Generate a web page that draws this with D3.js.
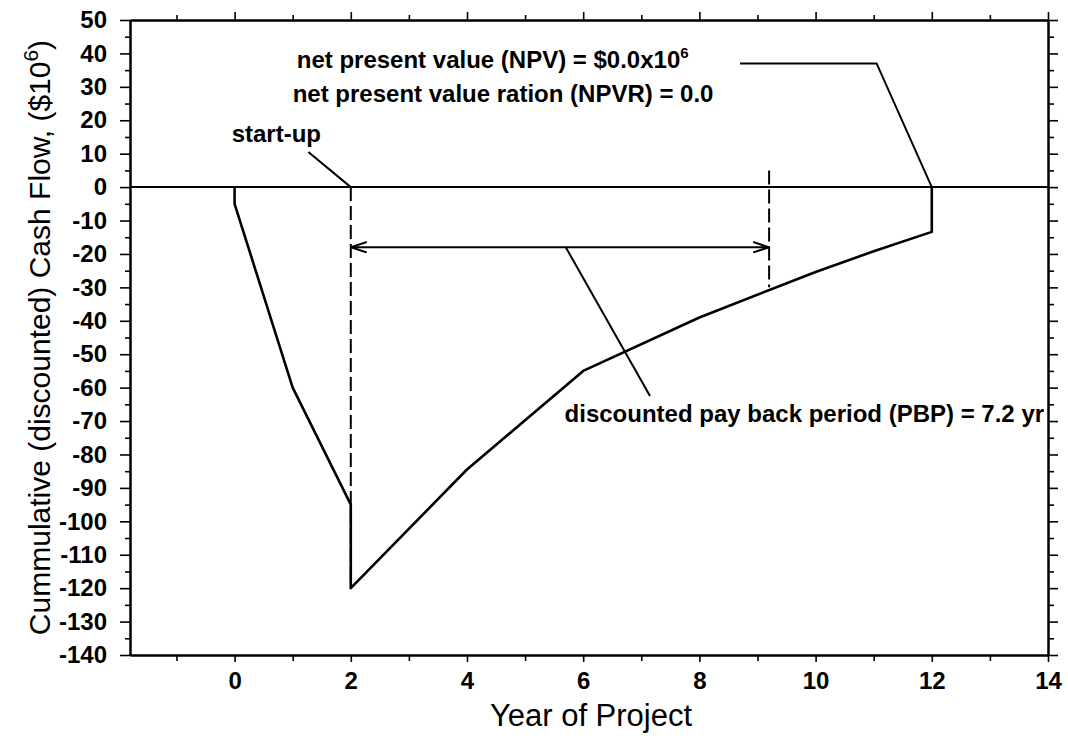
<!DOCTYPE html>
<html>
<head>
<meta charset="utf-8">
<script src="https://cdn.jsdelivr.net/npm/d3@7"></script>
<style>
  body { margin: 0; background: #fff; }
  svg { display: block; }
</style>
</head>
<body>
<div id="chart"></div>
<script>
// cumulative discounted cash flow
const years = [0, 0, 1, 2, 2, 4, 6, 8, 10, 11, 12, 12];
const cashFlow = [0, -5, -60, -95, -120, -84.5, -55, -39, -25.4, -19.2, -13.4, 0];

const xMajorTicks = [0, 2, 4, 6, 8, 10, 12, 14];
const xMinorTicks = [-1, 1, 3, 5, 7, 9, 11, 13];
const yMajorTicks = d3.range(-140, 51, 10);
const yMinorTicks = d3.range(-135, 50, 10);

const startupYear = 2;
const paybackYear = 9.2;
const arrowLevel = -18;

// annotation guide lines, in data units
const npvLeader = [[8.7, 37], [11.05, 37], [12, 0]];
const startupLeader = [[1.27, 10.5], [2, 0]];
const pbpLeader = [[5.7, -18], [7.15, -62.5]];
const startupDash = [[startupYear, 0], [startupYear, -120]];
const paybackDash = [[paybackYear, 5], [paybackYear, -30]];

const WIDTH = 1068;
const HEIGHT = 741;
const LEFT = 130, RIGHT = 1048, TOP = 20, BOTTOM = 655;

const svg = d3.select('#chart')
    .append('svg')
    .attr('width', WIDTH)
    .attr('height', HEIGHT)
    .style('font-family', '"Liberation Sans", Arial, sans-serif');

const x = d3.scaleLinear().domain([-1.8, 14]).range([LEFT, RIGHT]);
const y = d3.scaleLinear().domain([-140, 50]).range([BOTTOM, TOP]);

// plain hyphen for negatives, like the original
const fmt = d => String(d);

function styleAxis(g) {
    g.select('.domain').attr('stroke-width', 2);
    g.selectAll('.tick line').attr('stroke-width', 1.6);
    g.selectAll('.tick text')
        .attr('font-size', 24)
        .attr('font-weight', 'bold')
        .attr('fill', '#000');
}

// left axis
svg.append('g')
    .attr('transform', `translate(${LEFT},0)`)
    .call(d3.axisLeft(y).tickValues(yMajorTicks).tickSize(10).tickSizeOuter(0).tickPadding(13).tickFormat(fmt))
    .call(styleAxis);
svg.append('g')
    .attr('transform', `translate(${LEFT},0)`)
    .call(d3.axisLeft(y).tickValues(yMinorTicks).tickSize(5).tickSizeOuter(0).tickFormat(''))
    .call(styleAxis);

// right axis
svg.append('g')
    .attr('transform', `translate(${RIGHT},0)`)
    .call(d3.axisRight(y).tickValues(yMajorTicks).tickSize(10).tickSizeOuter(0).tickFormat(''))
    .call(styleAxis);
svg.append('g')
    .attr('transform', `translate(${RIGHT},0)`)
    .call(d3.axisRight(y).tickValues(yMinorTicks).tickSize(6).tickSizeOuter(0).tickFormat(''))
    .call(styleAxis);

// bottom axis
svg.append('g')
    .attr('transform', `translate(0,${BOTTOM})`)
    .call(d3.axisBottom(x).tickValues(xMajorTicks).tickSize(7).tickSizeOuter(0).tickPadding(10).tickFormat(fmt))
    .call(styleAxis);
svg.append('g')
    .attr('transform', `translate(0,${BOTTOM})`)
    .call(d3.axisBottom(x).tickValues(xMinorTicks).tickSize(6).tickSizeOuter(0).tickFormat(''))
    .call(styleAxis);

// top axis
svg.append('g')
    .attr('transform', `translate(0,${TOP})`)
    .call(d3.axisTop(x).tickValues(xMajorTicks).tickSize(8).tickSizeOuter(0).tickFormat(''))
    .call(styleAxis);
svg.append('g')
    .attr('transform', `translate(0,${TOP})`)
    .call(d3.axisTop(x).tickValues(xMinorTicks).tickSize(5).tickSizeOuter(0).tickFormat(''))
    .call(styleAxis);

// zero line
svg.append('line')
    .attr('x1', x(-1.8)).attr('x2', x(14))
    .attr('y1', y(0)).attr('y2', y(0))
    .attr('stroke', '#000')
    .attr('stroke-width', 2);

const line = d3.line().x(d => x(d[0])).y(d => y(d[1]));

// cash flow curve
svg.append('path')
    .datum(years.map((d, i) => [d, cashFlow[i]]))
    .attr('d', line)
    .attr('fill', 'none')
    .attr('stroke', '#000')
    .attr('stroke-width', 2.6)
    .attr('stroke-linejoin', 'round');

// dashed markers
[startupDash, paybackDash].forEach(seg => {
    svg.append('path')
        .datum(seg)
        .attr('d', line)
        .attr('stroke', '#000')
        .attr('stroke-width', 2)
        .attr('stroke-dasharray', '14,5');
});

// leaders
[npvLeader, startupLeader, pbpLeader].forEach(seg => {
    svg.append('path')
        .datum(seg)
        .attr('d', line)
        .attr('fill', 'none')
        .attr('stroke', '#000')
        .attr('stroke-width', 2);
});

// payback arrow
svg.append('defs').append('marker')
    .attr('id', 'arrow')
    .attr('viewBox', '0 0 17 12')
    .attr('refX', 16)
    .attr('refY', 6)
    .attr('markerUnits', 'userSpaceOnUse')
    .attr('markerWidth', 17)
    .attr('markerHeight', 12)
    .attr('orient', 'auto-start-reverse')
    .append('path')
    .attr('d', 'M0,0.8 L16,6 L0,11.2')
    .attr('fill', 'none')
    .attr('stroke', '#000')
    .attr('stroke-width', 2);

svg.append('line')
    .attr('x1', x(startupYear)).attr('x2', x(paybackYear))
    .attr('y1', y(arrowLevel)).attr('y2', y(arrowLevel))
    .attr('stroke', '#000')
    .attr('stroke-width', 2)
    .attr('marker-start', 'url(#arrow)')
    .attr('marker-end', 'url(#arrow)');

// annotation text
const note = svg.append('g')
    .attr('font-size', 24)
    .attr('font-weight', 'bold')
    .attr('fill', '#000');

const npv = note.append('text')
    .attr('x', x(1.07)).attr('y', y(35.7));
npv.append('tspan').text('net present value (NPV) = $0.0x10');
npv.append('tspan').attr('dy', -10).attr('font-size', 15).text('6');

note.append('text')
    .attr('x', x(1.0)).attr('y', y(25.5))
    .text('net present value ration (NPVR) = 0.0');

note.append('text')
    .attr('x', x(-0.05)).attr('y', y(13.5))
    .text('start-up');

note.append('text')
    .attr('x', x(5.68)).attr('y', y(-70.4))
    .text('discounted pay back period (PBP) = 7.2 yr');

// axis titles
svg.append('text')
    .attr('x', (LEFT + RIGHT) / 2 + 2)
    .attr('y', 726)
    .attr('text-anchor', 'middle')
    .attr('font-size', 31)
    .text('Year of Project');

const yTitle = svg.append('text')
    .attr('transform', `translate(50,${(TOP + BOTTOM) / 2}) rotate(-90)`)
    .attr('text-anchor', 'middle')
    .attr('font-size', 30);
yTitle.append('tspan').text('Cummulative (discounted) Cash Flow, ($10');
yTitle.append('tspan').attr('dy', -12).attr('font-size', 21).text('6');
yTitle.append('tspan').attr('dy', 12).text(')');
</script>
</body>
</html>
